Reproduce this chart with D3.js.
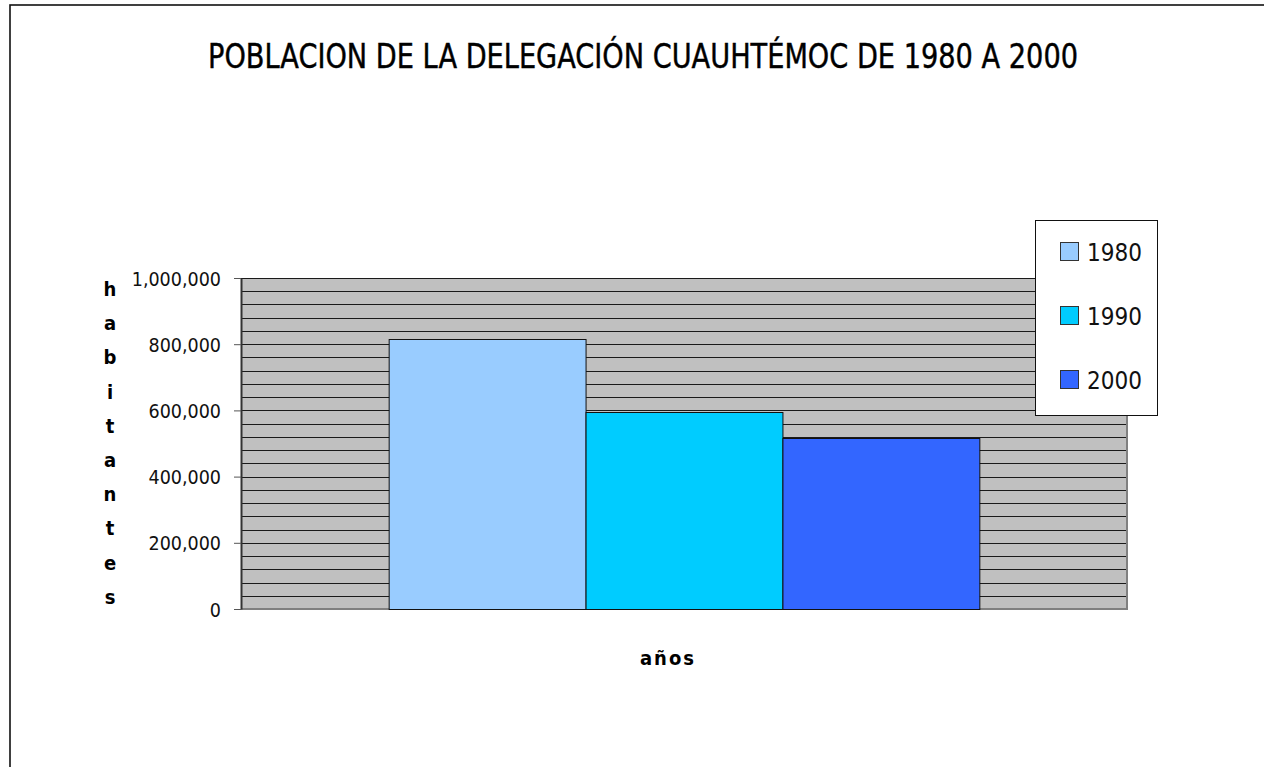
<!DOCTYPE html>
<html>
<head>
<meta charset="utf-8">
<script src="https://cdn.jsdelivr.net/npm/d3@7"></script>
<style>
  body { margin: 0; background: #fff; }
  svg { display: block; }
</style>
</head>
<body>
<svg id="chart" width="1264" height="767"></svg>
<script>
// datos
var categoria = ["años"];
var series = ["1980", "1990", "2000"];
var habitantes = [814983, 595960, 516255];
var colores = ["#99CCFF", "#00CCFF", "#3366FF"];
var ticksY = [0, 200000, 400000, 600000, 800000, 1000000];
var tituloY = "habitantes";

var svg = d3.select("#chart");

// marco exterior
svg.append("rect")
  .attr("x", 10).attr("y", 5)
  .attr("width", 1400).attr("height", 900)
  .attr("fill", "#fff")
  .attr("stroke", "#111")
  .attr("stroke-width", 1.6);

var plot = { left: 241, right: 1127, top: 278, bottom: 609 };

var y = d3.scaleLinear()
  .domain([0, 1000000])
  .range([plot.bottom, plot.top]);

var x0 = d3.scaleBand()
  .domain(categoria)
  .range([plot.left, plot.right])
  .padding(0.2);

var x1 = d3.scaleBand()
  .domain(series)
  .range([0, x0.bandwidth()]);

// fondo del area
svg.append("rect")
  .attr("x", plot.left).attr("y", plot.top)
  .attr("width", plot.right - plot.left)
  .attr("height", plot.bottom - plot.top)
  .attr("fill", "#C0C0C0");

// lineas de division cada 40,000
svg.append("g")
  .selectAll("line")
  .data(d3.range(40000, 1000001, 40000))
  .enter().append("line")
  .attr("x1", plot.left).attr("x2", plot.right)
  .attr("y1", function (d) { return Math.round(y(d)) + 0.5; })
  .attr("y2", function (d) { return Math.round(y(d)) + 0.5; })
  .attr("stroke", "#1a1a1a")
  .attr("stroke-width", 1);

// borde derecho e inferior del area
svg.append("path")
  .attr("d", "M" + plot.right + "," + plot.top + "V" + plot.bottom + "H" + plot.left)
  .attr("fill", "none")
  .attr("stroke", "#808080")
  .attr("stroke-width", 2);

// barras
svg.append("g")
  .selectAll("rect")
  .data(habitantes)
  .enter().append("rect")
  .attr("x", function (d, i) { return x0(categoria[0]) + x1(series[i]) + 0.5; })
  .attr("y", function (d) { return Math.round(y(d)) + 0.5; })
  .attr("width", x1.bandwidth())
  .attr("height", function (d) { return plot.bottom - Math.round(y(d)); })
  .attr("fill", function (d, i) { return colores[i]; })
  .attr("stroke", "#111")
  .attr("stroke-width", 1);

// eje Y
var ejeY = svg.append("g")
  .attr("transform", "translate(" + plot.left + ",0)")
  .call(d3.axisLeft(y)
    .tickValues(ticksY)
    .tickSize(7)
    .tickSizeOuter(0)
    .tickPadding(13)
    .tickFormat(d3.format(",")));
ejeY.select(".domain").attr("stroke", "#333").attr("stroke-width", 2);
ejeY.selectAll(".tick line").attr("stroke", "#555");
ejeY.selectAll("text")
  .attr("fill", "#111")
  .attr("dy", "0.36em")
  .style("font-family", "'DejaVu Sans Condensed', 'DejaVu Sans', sans-serif")
  .style("font-size", "19.5px");

// titulo
svg.append("text")
  .attr("x", 643).attr("y", 68)
  .attr("text-anchor", "middle")
  .attr("textLength", 870)
  .attr("lengthAdjust", "spacingAndGlyphs")
  .style("font-family", "'DejaVu Sans Condensed', 'DejaVu Sans', sans-serif")
  .style("font-size", "33px")
  .attr("fill", "#000")
  .attr("stroke", "#000")
  .attr("stroke-width", 0.4)
  .text("POBLACION DE LA DELEGACIÓN CUAUHTÉMOC DE 1980 A 2000");

// titulo eje Y, letras apiladas
svg.append("g")
  .selectAll("text")
  .data(tituloY.split(""))
  .enter().append("text")
  .attr("x", 110)
  .attr("y", function (d, i) { return 296 + i * 34.2; })
  .attr("text-anchor", "middle")
  .style("font-family", "'DejaVu Sans Condensed', 'DejaVu Sans', sans-serif")
  .style("font-size", "20px")
  .style("font-weight", "bold")
  .text(function (d) { return d; });

// titulo eje X
svg.append("text")
  .attr("x", 668).attr("y", 665)
  .attr("text-anchor", "middle")
  .style("font-family", "'DejaVu Sans Condensed', 'DejaVu Sans', sans-serif")
  .style("font-size", "20px")
  .style("font-weight", "bold")
  .style("letter-spacing", "2px")
  .text(categoria[0]);

// leyenda
var leyenda = svg.append("g");
leyenda.append("rect")
  .attr("x", 1035.5).attr("y", 220.5)
  .attr("width", 122).attr("height", 195)
  .attr("fill", "#fff")
  .attr("stroke", "#111")
  .attr("stroke-width", 1);

var ly = d3.scalePoint()
  .domain(series)
  .range([252, 380]);

var item = leyenda.selectAll("g.item")
  .data(series)
  .enter().append("g")
  .attr("class", "item")
  .attr("transform", function (d) { return "translate(0," + ly(d) + ")"; });
item.append("rect")
  .attr("x", 1060.5).attr("y", -9.5)
  .attr("width", 18).attr("height", 18)
  .attr("fill", function (d, i) { return colores[i]; })
  .attr("stroke", "#333");
item.append("text")
  .attr("x", 1087)
  .attr("y", 8.5)
  .style("font-family", "'DejaVu Sans Condensed', 'DejaVu Sans', sans-serif")
  .style("font-size", "24px")
  .attr("fill", "#111")
  .text(function (d) { return d; });
</script>
</body>
</html>
